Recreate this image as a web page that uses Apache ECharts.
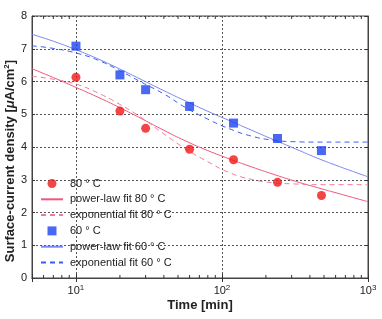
<!DOCTYPE html>
<html>
<head>
<meta charset="utf-8">
<script src="https://cdn.jsdelivr.net/npm/echarts@6/dist/echarts.min.js"></script>
<style>html,body{margin:0;padding:0;background:#fff}#c{width:382px;height:319px}</style>
</head>
<body>
<div id="c"></div>
<script>
// ---- data ----
const times = [10, 20, 30, 60, 120, 240, 480];
const meas80 = [6.13, 5.10, 4.57, 3.93, 3.61, 2.92, 2.52];
const meas60 = [7.08, 6.20, 5.75, 5.24, 4.73, 4.26, 3.89];

// fit curves, read at these times
const fitT = [5, 7, 10, 14, 20, 28, 40, 56, 80, 112, 160, 224, 320, 450, 640, 1000];
const powV80 = [6.39, 6.12, 5.82, 5.53, 5.20, 4.87, 4.51, 4.19, 3.89, 3.64, 3.39, 3.17, 2.95, 2.76, 2.57, 2.33];
const expV80 = [6.16, 6.07, 5.92, 5.66, 5.30, 4.90, 4.40, 3.95, 3.55, 3.22, 3.01, 2.91, 2.87, 2.85, 2.85, 2.85];
const powV60 = [7.44, 7.23, 6.97, 6.70, 6.38, 6.06, 5.72, 5.41, 5.09, 4.81, 4.51, 4.23, 3.94, 3.66, 3.40, 3.09];
const expV60 = [7.09, 7.01, 6.87, 6.66, 6.33, 5.98, 5.62, 5.21, 4.85, 4.56, 4.33, 4.21, 4.16, 4.15, 4.15, 4.15];

const minorTicks = [6, 7, 8, 9, 20, 30, 40, 50, 60, 70, 80, 90, 200, 300, 400, 500, 600, 700, 800, 900];

const names = ['80 ° C', 'power-law fit 80 ° C', 'exponential fit 80 ° C',
               '60 ° C', 'power-law fit 60 ° C', 'exponential fit 60 ° C'];

const zip = (a, b) => a.map((v, i) => [v, b[i]]);
const FONT = 'Liberation Sans, Arial, Helvetica, sans-serif';

const chart = echarts.init(document.getElementById('c'));
const gridLine = { show: true, lineStyle: { color: '#555', type: [2, 2], width: 1 } };
const sup = { fontSize: 8, fontFamily: FONT, color: '#222', verticalAlign: 'top', lineHeight: 10, padding: [0, 0, 6, 0] };

function xLabel(v) {
  const e = Math.round(Math.log10(v));
  if (Math.abs(Math.pow(10, e) - v) > 1e-6) return '';
  return '{b|10}{s|' + e + '}';
}

const RED_M = '#f01616', RED_L = '#f0587c', RED_D = '#f27a98';
const BLUE_M = '#1c44f2', BLUE_L = '#7a88f2', BLUE_D = '#3d5cf2';
const lineLegend = (n) => ({ name: n, itemStyle: { opacity: 0 } });

chart.setOption({
  animation: false,
  backgroundColor: '#fff',
  grid: { left: 32, right: 14, top: 16, bottom: 41, show: true, borderColor: '#444', borderWidth: 1,
          containLabel: false, outerBoundsMode: 'none' },
  legend: {
    orient: 'vertical', left: 35, top: 173,
    itemWidth: 22, itemHeight: 9, itemGap: 4.8,
    data: [
      { name: names[0], icon: 'circle' },
      lineLegend(names[1]),
      lineLegend(names[2]),
      { name: names[3], icon: 'path://M0,0L10,0L10,10L0,10Z' },
      lineLegend(names[4]),
      lineLegend(names[5])
    ],
    textStyle: { fontFamily: FONT, fontSize: 11, color: '#222', padding: [0, 0, 0, 2] },
    backgroundColor: 'transparent'
  },
  xAxis: [{
    type: 'log', logBase: 10, min: 5, max: 1000, position: 'bottom',
    axisLine: { show: true, lineStyle: { color: '#444' } },
    axisTick: { show: true, inside: true, length: 4, lineStyle: { color: '#333' } },
    splitLine: gridLine,
    axisLabel: {
      formatter: xLabel, margin: 6,
      rich: { b: { fontSize: 11, fontFamily: FONT, color: '#222', lineHeight: 14 }, s: sup }
    },
    name: 'Time [min]', nameLocation: 'middle', nameGap: 21, nameMoveOverlap: false,
    nameTextStyle: { fontFamily: FONT, fontSize: 13, fontWeight: 'bold', color: '#222' }
  }, {
    type: 'log', logBase: 10, min: 5, max: 1000, position: 'top',
    axisLine: { show: true, lineStyle: { color: '#444' } },
    axisTick: { show: true, inside: true, length: 4, lineStyle: { color: '#333' } },
    axisLabel: { show: false }, splitLine: { show: false }
  }],
  yAxis: [{
    type: 'value', min: 0, max: 8, interval: 1, position: 'left',
    axisLine: { show: true, lineStyle: { color: '#444' } },
    axisTick: { show: true, inside: true, length: 3, lineStyle: { color: '#333' } },
    splitLine: gridLine,
    axisLabel: { fontFamily: FONT, fontSize: 11, color: '#222', margin: 5 },
    name: 'Surface-current density [{i|μ}A/cm{s|2}]',
    nameLocation: 'middle', nameGap: 15, nameRotate: 90, nameMoveOverlap: false,
    nameTextStyle: {
      fontFamily: FONT, fontSize: 13, fontWeight: 'bold', color: '#222',
      align: 'center', verticalAlign: 'bottom', padding: [0, 28, 0, 0],
      rich: {
        i: { fontFamily: FONT, fontSize: 13, fontWeight: 'bold', fontStyle: 'italic', color: '#222' },
        s: { fontFamily: FONT, fontSize: 8, fontWeight: 'bold', color: '#222', verticalAlign: 'top', padding: [0, 0, 6, 0] }
      }
    }
  }, {
    type: 'value', min: 0, max: 8, interval: 1, position: 'right',
    axisLine: { show: true, lineStyle: { color: '#444' } },
    axisTick: { show: true, inside: true, length: 3, lineStyle: { color: '#333' } },
    axisLabel: { show: false }, splitLine: { show: false }
  }],
  series: [
    {
      name: names[0], type: 'scatter', data: zip(times, meas80),
      symbol: 'circle', symbolSize: 9, itemStyle: { color: RED_M }, z: 5
    },
    {
      name: names[1], type: 'line', data: zip(fitT, powV80), smooth: true,
      symbol: 'none', showSymbol: false, lineStyle: { color: RED_L, width: 1 }, itemStyle: { color: RED_L }
    },
    {
      name: names[2], type: 'line', data: zip(fitT, expV80), smooth: true,
      symbol: 'none', showSymbol: false, lineStyle: { color: RED_D, width: 1, type: [5, 4] }, itemStyle: { color: RED_D }
    },
    {
      name: names[3], type: 'scatter', data: zip(times, meas60),
      symbol: 'rect', symbolSize: 9, itemStyle: { color: BLUE_M }, z: 5
    },
    {
      name: names[4], type: 'line', data: zip(fitT, powV60), smooth: true,
      symbol: 'none', showSymbol: false, lineStyle: { color: BLUE_L, width: 1 }, itemStyle: { color: BLUE_L }
    },
    {
      name: names[5], type: 'line', data: zip(fitT, expV60), smooth: true,
      symbol: 'none', showSymbol: false, lineStyle: { color: BLUE_D, width: 1, type: [5, 4] }, itemStyle: { color: BLUE_D }
    },
    {
      type: 'custom', name: 'minor ticks', silent: true, z: 1,
      data: minorTicks.map(v => [v, 0]),
      renderItem: function (params, api) {
        const v = api.value(0);
        const b = api.coord([v, 0]);
        const t = api.coord([v, 8]);
        const st = { stroke: '#333', lineWidth: 1 };
        return {
          type: 'group', children: [
            { type: 'line', shape: { x1: b[0], y1: b[1], x2: b[0], y2: b[1] - 3 }, style: st },
            { type: 'line', shape: { x1: t[0], y1: t[1], x2: t[0], y2: t[1] + 3 }, style: st }
          ]
        };
      }
    }
  ]
});
</script>
</body>
</html>
